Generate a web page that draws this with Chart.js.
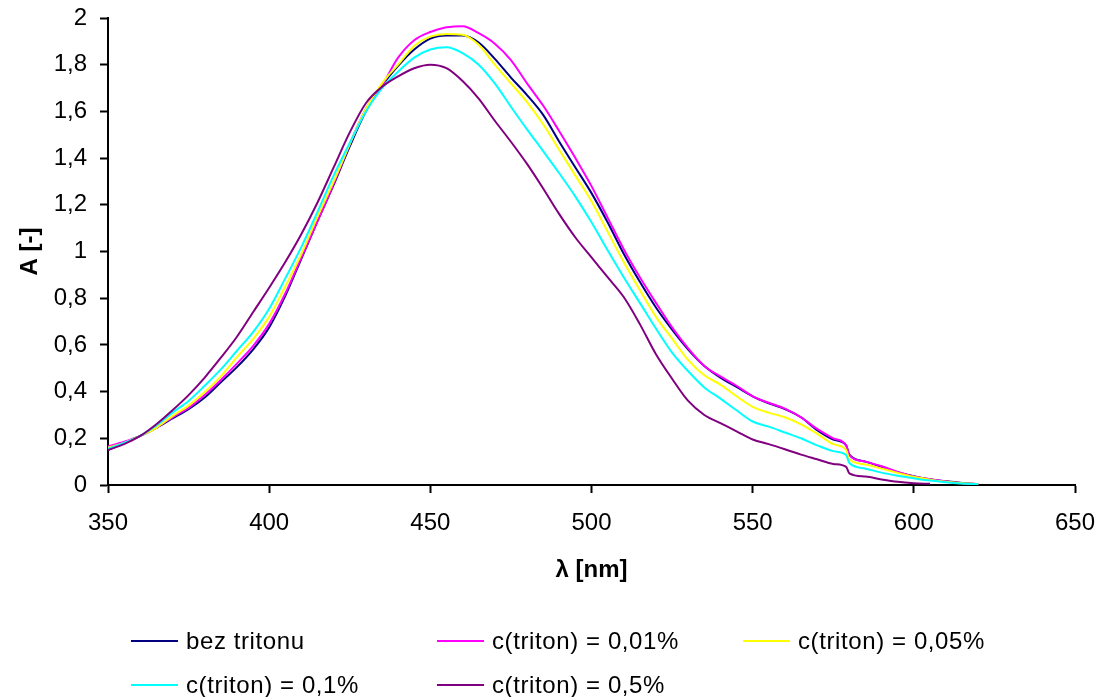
<!DOCTYPE html>
<html lang="cs">
<head>
  <meta charset="UTF-8" />
  <title>Absorpční spektra - triton</title>
  <script src="https://cdn.jsdelivr.net/npm/chart.js"></script>
  <style>
    body { margin: 0; background: #fff; font-family: "Liberation Sans", Arial, sans-serif; }
    .wrap { position: relative; width: 1101px; height: 697px; }
    .legenda .item { position: absolute; height: 30px; display: flex; align-items: center; font-size: 24px; letter-spacing: 0.6px; color: #000; white-space: nowrap; }
    .legenda .cara { display: inline-block; width: 47px; height: 2px; margin-right: 8px; }
  </style>
</head>
<body>
  <div class="wrap">
    <canvas id="graf" width="1101" height="697"></canvas>
    <div class="legenda" id="legenda"></div>
  </div>

  <script>
    // vlnove delky [nm]
    const lambda = [350,355,360,365,370,375,380,385,390,395,
                    400,405,410,415,420,425,430,435,440,445,
                    450,455,460,465,470,475,480,485,490,495,
                    500,505,510,515,520,525,530,535,540,545,
                    550,555,560,565,570,575,579,
                    580,585,590,595,600,605,610,615,620];

    const bezTritonu = [0.15,0.18,0.21,0.245,0.285,0.325,0.375,0.44,0.505,0.58,
                        0.675,0.81,0.97,1.13,1.285,1.45,1.60,1.71,1.795,1.865,
                        1.912,1.925,1.925,1.895,1.825,1.745,1.67,1.585,1.47,1.36,
                        1.25,1.125,0.99,0.87,0.76,0.665,0.58,0.51,0.46,0.42,
                        0.38,0.35,0.325,0.29,0.235,0.195,0.17,
                        0.13,0.10,0.078,0.055,0.038,0.025,0.016,0.009,0.004];

    const triton001 = [0.165,0.185,0.21,0.245,0.29,0.33,0.385,0.45,0.52,0.595,
                       0.69,0.82,0.975,1.13,1.29,1.46,1.61,1.71,1.83,1.905,
                       1.94,1.96,1.965,1.935,1.89,1.82,1.72,1.625,1.515,1.40,
                       1.28,1.145,1.01,0.89,0.78,0.675,0.585,0.51,0.465,0.425,
                       0.38,0.352,0.327,0.29,0.24,0.2,0.17,
                       0.128,0.10,0.08,0.056,0.037,0.025,0.015,0.008,0.004];

    const triton005 = [0.16,0.18,0.21,0.245,0.295,0.34,0.398,0.465,0.548,0.625,
                       0.72,0.85,0.99,1.15,1.30,1.46,1.61,1.72,1.80,1.88,
                       1.92,1.932,1.928,1.885,1.80,1.72,1.64,1.545,1.435,1.325,
                       1.215,1.085,0.955,0.835,0.72,0.627,0.535,0.47,0.43,0.38,
                       0.335,0.31,0.29,0.26,0.22,0.175,0.15,
                       0.11,0.088,0.07,0.052,0.035,0.023,0.014,0.008,0.004];

    const triton01 = [0.155,0.18,0.21,0.255,0.31,0.36,0.425,0.495,0.575,0.655,
                      0.755,0.885,1.02,1.17,1.325,1.465,1.60,1.70,1.77,1.83,
                      1.865,1.875,1.85,1.80,1.72,1.62,1.523,1.43,1.335,1.235,
                      1.125,1.005,0.89,0.78,0.67,0.567,0.487,0.418,0.37,0.32,
                      0.272,0.25,0.225,0.2,0.17,0.145,0.128,
                      0.094,0.07,0.053,0.04,0.029,0.019,0.012,0.006,0.003];

    const triton05 = [0.15,0.175,0.21,0.26,0.32,0.385,0.46,0.545,0.635,0.74,
                      0.845,0.955,1.075,1.21,1.36,1.51,1.635,1.705,1.75,1.785,
                      1.80,1.785,1.73,1.655,1.56,1.47,1.375,1.27,1.16,1.06,
                      0.975,0.89,0.805,0.689,0.56,0.455,0.36,0.30,0.265,0.23,
                      0.195,0.175,0.153,0.13,0.11,0.09,0.078,
                      0.05,0.036,0.024,0.014,0.008,0.005,null,null,null];

    const popisky = ['bez tritonu', 'c(triton) = 0,01%', 'c(triton) = 0,05%', 'c(triton) = 0,1%', 'c(triton) = 0,5%'];
    const barvy = ['#000080', '#ff00ff', '#ffff00', '#00ffff', '#800080'];
    const serie = [bezTritonu, triton001, triton005, triton01, triton05];

    const pismo = { family: '"Liberation Sans", Arial, sans-serif', size: 24 };
    const pismoTucne = { family: '"Liberation Sans", Arial, sans-serif', size: 24, weight: 'bold' };

    const datasets = serie.map((hodnoty, i) => ({
      label: popisky[i],
      data: lambda.map((x, j) => ({ x: x, y: hodnoty[j] })),
      borderColor: barvy[i],
      backgroundColor: barvy[i],
      borderWidth: 2,
      pointRadius: 0,
      cubicInterpolationMode: 'monotone',
      spanGaps: false,
      order: serie.length - i   // posledni serie navrchu jako v Excelu
    }));

    new Chart(document.getElementById('graf'), {
      type: 'line',
      data: { datasets: datasets },
      options: {
        responsive: false,
        animation: false,
        events: [],
        layout: { padding: { top: 18, right: 26, bottom: 0, left: 0 } },
        plugins: { legend: { display: false }, tooltip: { enabled: false } },
        scales: {
          x: {
            type: 'linear',
            min: 350, max: 650,
            afterFit: s => { s.height = 697 - 485; s.paddingLeft = 0; s.paddingRight = 0; },
            ticks: { stepSize: 50, padding: 16, color: '#000', font: pismo, maxRotation: 0 },
            grid: { drawOnChartArea: false, drawTicks: true, tickLength: 8, tickWidth: 2, tickColor: '#000' },
            border: { color: '#000', width: 2 },
            title: { display: true, text: 'λ [nm]', color: '#000', font: pismoTucne, padding: { top: 0, bottom: 112 } }
          },
          y: {
            min: 0, max: 2,
            afterFit: s => { s.width = 108; s.paddingTop = 0; s.paddingBottom = 0; },
            ticks: {
              stepSize: 0.2, padding: 13, color: '#000', font: pismo,
              callback: v => String(Math.round(v * 10) / 10).replace('.', ',')
            },
            grid: { drawOnChartArea: false, drawTicks: true, tickLength: 8, tickWidth: 2, tickColor: '#000' },
            border: { color: '#000', width: 2 },
            title: { display: true, text: 'A [-]', color: '#000', font: pismoTucne, padding: { top: 16, bottom: 0 } }
          }
        }
      }
    });

    // legenda ve trech sloupcich
    const legenda = document.getElementById('legenda');
    popisky.forEach((text, i) => {
      const el = document.createElement('div');
      el.className = 'item';
      el.style.left = (131 + (i % 3) * 306) + 'px';
      el.style.top = (641 + Math.floor(i / 3) * 44 - 15) + 'px';
      el.innerHTML = '<span class="cara" style="background:' + barvy[i] + '"></span>' + text;
      legenda.appendChild(el);
    });
  </script>
</body>
</html>
